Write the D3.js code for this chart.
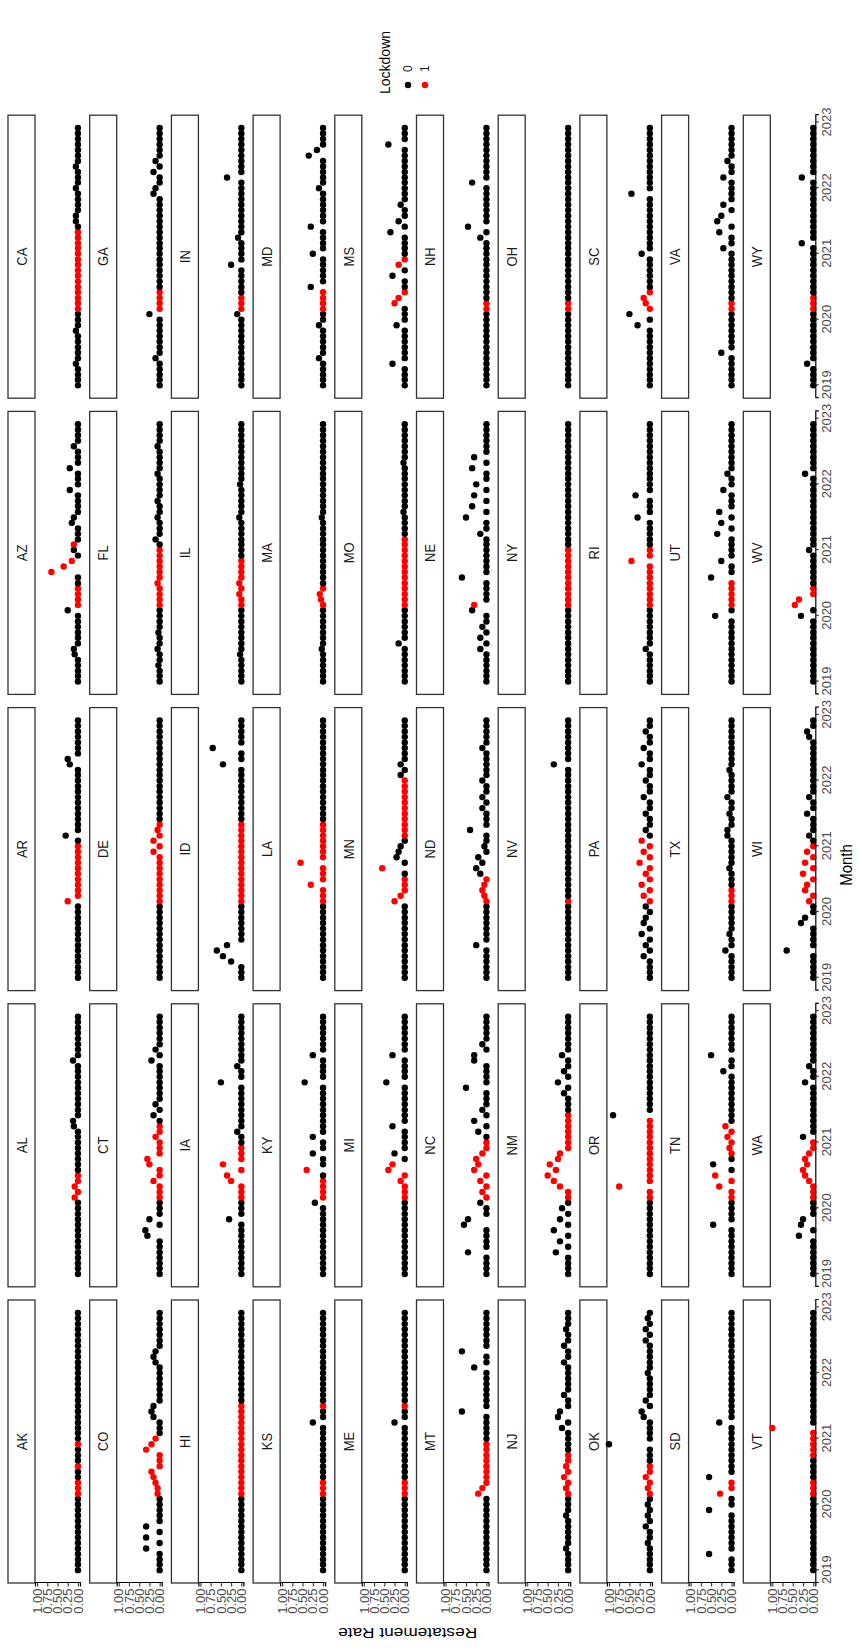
<!DOCTYPE html>
<meta charset="utf-8">
<style>
body { margin: 0; background: #fff; }
svg { font-family: "Liberation Sans", Arial, sans-serif; }
</style>
<svg width="859" height="1650"></svg>
<script src="https://cdn.jsdelivr.net/npm/d3@7/dist/d3.min.js"></script>
<script>

var states = ["AK","AL","AR","AZ","CA","CO","CT","DE","FL","GA",
              "HI","IA","ID","IL","IN","KS","KY","LA","MA","MD",
              "ME","MI","MN","MO","MS","MT","NC","ND","NE","NH",
              "NJ","NM","NV","NY","OH","OK","OR","PA","RI","SC",
              "SD","TN","TX","UT","VA","VT","WA","WI","WV","WY"];

// month index 0 = Jan 2019 ... 47 = Dec 2022; every month not listed is 0
var nonzero = [
  ["AL",14,0.08],["AL",16,0.08],["AL",27,0.1],["AL",28,0.12],["AL",39,0.12],
  ["AR",14,0.25],["AR",26,0.3],["AR",39,0.2],["AR",40,0.25],
  ["AZ",5,0.08],["AZ",6,0.1],["AZ",13,0.25],["AZ",20,0.65],["AZ",21,0.35],["AZ",22,0.15],["AZ",24,0.1],["AZ",25,0.1],["AZ",29,0.15],["AZ",30,0.1],["AZ",35,0.2],["AZ",39,0.2],["AZ",43,0.1],
  ["CA",4,0.05],["CA",10,0.05],["CA",30,0.05],["CA",31,0.05],["CA",36,0.05],["CA",40,0.05],
  ["CO",4,0.33],["CO",6,0.33],["CO",8,0.33],["CO",14,0.05],["CO",15,0.05],["CO",16,0.1],["CO",17,0.15],["CO",18,0.2],["CO",22,0.33],["CO",23,0.2],["CO",24,0.1],["CO",28,0.15],["CO",29,0.2],["CO",30,0.15],["CO",38,0.1],["CO",39,0.15],["CO",40,0.1],
  ["CT",7,0.3],["CT",8,0.35],["CT",10,0.25],["CT",17,0.15],["CT",20,0.25],["CT",21,0.3],["CT",25,0.1],["CT",29,0.15],["CT",31,0.1],["CT",39,0.2],["CT",41,0.1],
  ["DE",23,0.15],["DE",25,0.15],["DE",27,0.05],
  ["FL",3,0.03],["FL",6,0.05],["FL",9,0.03],["FL",18,0.05],["FL",26,0.1],["FL",30,0.05],["FL",33,0.05],["FL",38,0.05],["FL",43,0.05],
  ["GA",5,0.1],["GA",13,0.25],["GA",35,0.15],["GA",36,0.1],["GA",39,0.15],["GA",41,0.1],
  ["IA",10,0.3],["IA",17,0.25],["IA",18,0.35],["IA",20,0.45],["IA",26,0.1],["IA",35,0.5],["IA",38,0.1],
  ["ID",3,0.25],["ID",4,0.45],["ID",5,0.6],["ID",6,0.35],["ID",39,0.45],["ID",42,0.7],
  ["IL",5,0.03],["IL",16,0.05],["IL",18,0.05],["IL",30,0.05],["IL",36,0.03],
  ["IN",13,0.1],["IN",22,0.25],["IN",27,0.08],["IN",38,0.35],
  ["KS",27,0.25],
  ["KY",13,0.2],["KY",19,0.4],["KY",22,0.25],["KY",25,0.25],["KY",35,0.45],["KY",40,0.25],
  ["LA",17,0.3],["LA",21,0.55],
  ["MA",6,0.03],["MA",15,0.05],["MA",16,0.08],["MA",30,0.03],
  ["MD",5,0.1],["MD",11,0.1],["MD",18,0.3],["MD",24,0.25],["MD",29,0.3],["MD",36,0.1],["MD",42,0.35],["MD",43,0.15],
  ["ME",27,0.25],
  ["MI",17,0.1],["MI",19,0.4],["MI",20,0.3],["MI",22,0.25],["MI",27,0.3],["MI",35,0.45],["MI",40,0.3],
  ["MN",14,0.25],["MN",15,0.1],["MN",20,0.55],["MN",22,0.2],["MN",23,0.15],["MN",24,0.1],["MN",37,0.1],["MN",39,0.1],
  ["MO",7,0.15],["MO",31,0.03],["MO",40,0.03],
  ["MS",4,0.3],["MS",11,0.2],["MS",15,0.25],["MS",16,0.15],["MS",20,0.3],["MS",22,0.15],["MS",28,0.35],["MS",30,0.15],["MS",33,0.1],["MS",44,0.4],
  ["MT",14,0.2],["MT",15,0.1],["MT",29,0.6],["MT",37,0.3],["MT",40,0.6],
  ["NC",4,0.45],["NC",9,0.55],["NC",10,0.45],["NC",13,0.15],["NC",15,0.1],["NC",17,0.15],["NC",19,0.3],["NC",20,0.2],["NC",21,0.25],["NC",22,0.1],["NC",26,0.2],["NC",28,0.3],["NC",30,0.1],["NC",34,0.5],["NC",39,0.3],["NC",40,0.3],["NC",42,0.1],
  ["ND",6,0.25],["ND",15,0.05],["ND",16,0.1],["ND",17,0.05],["ND",19,0.15],["ND",20,0.25],["ND",21,0.1],["ND",22,0.2],["ND",24,0.05],["ND",27,0.4],["ND",31,0.1],["ND",33,0.1],["ND",36,0.1],["ND",42,0.1],
  ["NE",6,0.15],["NE",8,0.15],["NE",10,0.1],["NE",13,0.35],["NE",14,0.3],["NE",19,0.6],["NE",27,0.15],["NE",30,0.5],["NE",32,0.35],["NE",34,0.3],["NE",36,0.25],["NE",39,0.35],["NE",41,0.3],
  ["NH",27,0.15],["NH",29,0.45],["NH",37,0.35],
  ["NJ",4,0.05],["NJ",10,0.05],["NJ",15,0.05],["NJ",17,0.1],["NJ",19,0.05],["NJ",26,0.15],["NJ",28,0.25],["NJ",29,0.2],["NJ",32,0.1],["NJ",38,0.1],["NJ",41,0.1],["NJ",44,0.05],
  ["NM",4,0.3],["NM",6,0.2],["NM",8,0.35],["NM",10,0.2],["NM",12,0.15],["NM",16,0.2],["NM",17,0.35],["NM",18,0.5],["NM",19,0.3],["NM",20,0.45],["NM",21,0.25],["NM",22,0.2],["NM",33,0.1],["NM",35,0.25],["NM",37,0.1],["NM",40,0.15],
  ["NV",39,0.35],
  ["OK",5,0.05],["OK",8,0.1],["OK",10,0.05],["OK",12,0.05],["OK",15,0.05],["OK",17,0.1],["OK",23,1.0],["OK",28,0.15],["OK",29,0.2],["OK",31,0.1],["OK",36,0.05],["OK",42,0.1],["OK",44,0.1],["OK",46,0.05],
  ["OR",16,0.75],["OR",29,0.9],
  ["PA",4,0.15],["PA",6,0.1],["PA",8,0.2],["PA",10,0.15],["PA",11,0.1],["PA",13,0.1],["PA",15,0.15],["PA",17,0.2],["PA",19,0.1],["PA",21,0.25],["PA",23,0.15],["PA",25,0.2],["PA",27,0.1],["PA",30,0.1],["PA",33,0.15],["PA",36,0.1],["PA",39,0.2],["PA",42,0.15],["PA",45,0.1],
  ["RI",6,0.1],["RI",22,0.45],["RI",30,0.3],["RI",34,0.35],
  ["SC",11,0.3],["SC",13,0.5],["SC",15,0.1],["SC",16,0.15],["SC",24,0.2],["SC",35,0.45],
  ["SD",3,0.55],["SD",11,0.55],["SD",14,0.28],["SD",17,0.55],["SD",27,0.3],
  ["TN",9,0.45],["TN",16,0.3],["TN",18,0.4],["TN",20,0.45],["TN",23,0.05],["TN",25,0.1],["TN",27,0.15],["TN",37,0.2],["TN",40,0.5],
  ["TX",5,0.15],["TX",8,0.05],["TX",20,0.05],["TX",26,0.1],["TX",27,0.1],["TX",30,0.05],["TX",33,0.1],["TX",38,0.05],
  ["UT",12,0.4],["UT",19,0.5],["UT",22,0.25],["UT",27,0.35],["UT",29,0.25],["UT",31,0.3],["UT",35,0.2],["UT",38,0.1],
  ["VA",6,0.25],["VA",25,0.2],["VA",28,0.3],["VA",30,0.35],["VA",31,0.25],["VA",33,0.2],["VA",38,0.2],["VA",41,0.1],
  ["VT",26,1.0],
  ["WA",7,0.35],["WA",9,0.3],["WA",10,0.25],["WA",17,0.1],["WA",18,0.2],["WA",19,0.25],["WA",20,0.15],["WA",21,0.2],["WA",22,0.1],["WA",25,0.25],["WA",35,0.2],["WA",38,0.1],
  ["WI",5,0.65],["WI",10,0.3],["WI",11,0.2],["WI",14,0.1],["WI",16,0.2],["WI",17,0.15],["WI",19,0.25],["WI",21,0.2],["WI",23,0.15],["WI",26,0.1],["WI",30,0.15],["WI",33,0.1],["WI",44,0.1],["WI",45,0.15],
  ["WV",12,0.3],["WV",14,0.45],["WV",15,0.35],["WV",24,0.1],["WV",38,0.2],
  ["WY",4,0.15],["WY",26,0.28],["WY",38,0.28]
];

// lockdown months, inclusive [state, first month, last month]
var lockdownSpans = [
  ["AK",14,16],["AK",19,19],["AK",23,23],
  ["AL",14,18],["AR",14,24],["AZ",14,17],["AZ",20,22],["AZ",25,25],["CA",14,28],
  ["CO",14,24],["CT",14,27],["DE",14,28],["FL",14,24],["GA",14,17],
  ["HI",14,30],["IA",14,23],["ID",14,28],["IL",14,22],["IN",14,16],
  ["KS",14,16],["KS",30,30],["KY",14,17],["KY",19,19],["LA",14,28],["MA",14,17],["MD",14,17],
  ["ME",14,16],["ME",30,30],["MI",14,20],["MN",14,18],["MN",20,20],["MN",26,36],["MO",14,26],["MS",15,17],["MS",22,23],
  ["MT",14,23],["NC",14,24],["ND",14,18],["NE",14,14],["NH",14,15],
  ["NJ",14,21],["NM",14,29],["NV",14,14],["NY",14,24],["OH",14,15],
  ["OK",14,19],["OR",14,28],["PA",14,25],["RI",14,24],["SC",14,17],
  ["SD",14,16],["TN",14,18],["TN",22,27],["TX",14,16],["UT",14,18],["VA",14,15],
  ["VT",14,16],["VT",21,26],["WA",14,24],["WI",14,24],["WV",14,17],["WY",14,16]
];

var yTicks = [0, 0.25, 0.5, 0.75, 1];

var svg = d3.select("svg");

// the plot is laid out as a landscape figure and turned a quarter turn
var W = 1650, H = 859;
var g = svg.append("g").attr("transform", "translate(0," + W + ") rotate(-90)");

var colX = 67, colPitch = 296.2, panelW = 283;
var rowY = 8, rowPitch = 81.7, stripH = 27, panelH = 45;
var stretch = 1.15;   // glyphs are a little taller than wide in the reference

var months = d3.timeMonth.range(new Date(2019, 0, 1), new Date(2023, 0, 1));
var t0 = months[0], t1 = months[months.length - 1];
var pad = (t1 - t0) * 0.05;
var x = d3.scaleTime()
    .domain([new Date(+t0 - pad), new Date(+t1 + pad)])
    .range([0, panelW]);
var y = d3.scaleLinear().domain([-0.05, 1.05]).range([panelH, 0]);
var colour = d3.scaleOrdinal().domain([0, 1]).range(["#000000", "#ff0000"]);

function buildSeries(st) {
  var vals = months.map(function() { return 0; });
  var lock = months.map(function() { return 0; });
  nonzero.forEach(function(d) { if (d[0] == st) vals[d[1]] = d[2]; });
  lockdownSpans.forEach(function(d) {
    if (d[0] == st) for (var i = d[1]; i <= d[2]; i++) lock[i] = 1;
  });
  return months.map(function(m, i) { return {date: m, rate: vals[i], lockdown: lock[i]}; });
}

states.forEach(function(st, i) {
  var c = i % 5, r = Math.floor(i / 5);
  var px = colX + c * colPitch, py = rowY + r * rowPitch;
  var cell = g.append("g").attr("transform", "translate(" + px + "," + py + ")");

  cell.append("rect")
      .attr("x", 0).attr("y", 0)
      .attr("width", panelW).attr("height", stripH)
      .attr("fill", "#fff").attr("stroke", "#333").attr("stroke-width", 1.3);
  cell.append("text")
      .attr("transform", "translate(" + panelW / 2 + "," + stripH / 2 + ") scale(1," + stretch + ")")
      .attr("dy", "0.35em")
      .attr("text-anchor", "middle")
      .attr("font-size", 13)
      .attr("fill", "#1a1a1a")
      .text(st);

  var panel = cell.append("g").attr("transform", "translate(0," + stripH + ")");

  panel.selectAll("circle")
      .data(buildSeries(st))
      .enter().append("circle")
      .attr("cx", function(d) { return x(d.date); })
      .attr("cy", function(d) { return y(d.rate); })
      .attr("r", 3.2)
      .attr("fill", function(d) { return colour(d.lockdown); });

  if (c == 0) {
    var ya = panel.append("g")
        .call(d3.axisLeft(y).tickValues(yTicks).tickFormat(d3.format(".2f")).tickSize(3.5).tickPadding(2));
    styleAxis(ya);
  }
  if (r == 9) {
    var xa = panel.append("g")
        .attr("transform", "translate(0," + panelH + ")")
        .call(d3.axisBottom(x).ticks(d3.timeYear.every(1)).tickFormat(d3.timeFormat("%Y")).tickSize(3.5).tickPadding(3));
    styleAxis(xa);
  }
});

function styleAxis(a) {
  a.select(".domain").attr("stroke", "#000").attr("stroke-width", 1.2);
  a.selectAll(".tick line").attr("stroke", "#333").attr("stroke-width", 1.1);
  a.selectAll(".tick text").attr("fill", "#4d4d4d").attr("font-size", 13)
      .attr("font-family", "Liberation Sans, Arial, sans-serif");
}

// axis titles
g.append("text")
    .attr("transform", "translate(17," + (35 + 9 * rowPitch + panelH) / 2 + ") rotate(-90) scale(" + stretch + ",1)")
    .attr("text-anchor", "middle")
    .attr("dy", "0.35em")
    .attr("font-size", 15)
    .text("Restatement Rate");

g.append("text")
    .attr("transform", "translate(785,846) scale(1," + stretch + ")")
    .attr("text-anchor", "middle")
    .attr("dy", "0.35em")
    .attr("font-size", 15)
    .text("Month");

// legend
var leg = g.append("g").attr("transform", "translate(1556,390)");
leg.append("text").attr("x", 0).attr("y", 0).attr("font-size", 14).text("Lockdown");
[0, 1].forEach(function(k, i) {
  leg.append("circle").attr("cx", 9).attr("cy", 18 + i * 17).attr("r", 3.2).attr("fill", colour(k));
  leg.append("text").attr("x", 22).attr("y", 18 + i * 17).attr("dy", "0.35em")
      .attr("font-size", 12).attr("fill", "#1a1a1a").text(k);
});

</script>
